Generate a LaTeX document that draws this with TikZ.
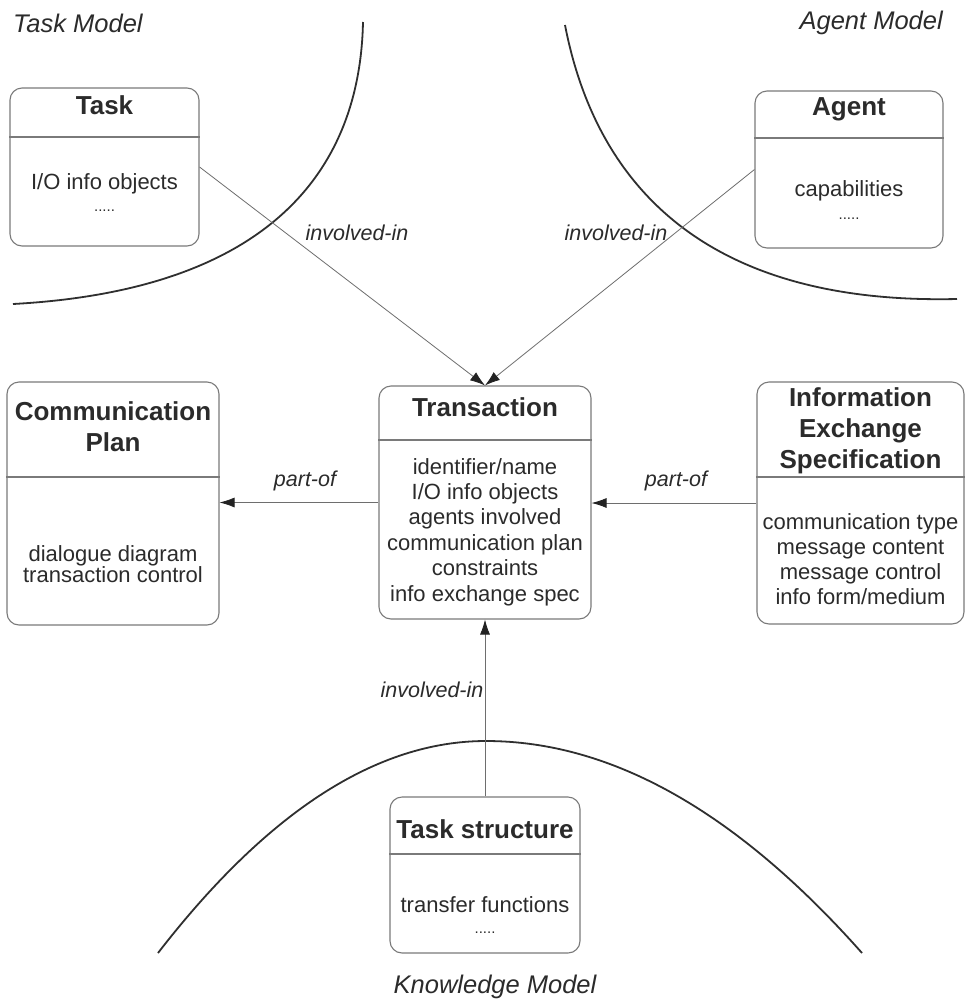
\documentclass[tikz,border=0pt]{standalone}
\usepackage{fontspec}
\setmainfont{Liberation Sans}
\usetikzlibrary{arrows.meta}

\definecolor{ink}{HTML}{2B2B2B}
\definecolor{boxline}{HTML}{7A7A7A}
\definecolor{relline}{HTML}{6E6E6E}
\definecolor{tipink}{HTML}{222222}
\definecolor{boundaryink}{HTML}{2F2F2F}

\tikzset{
  classbox/.style={draw=boxline, line width=1.1pt, rounded corners=12pt, fill=white, inner sep=0pt},
  divider/.style={draw=boxline, line width=1.1pt},
  classtitle/.style={font=\fontsize{26}{31}\selectfont\bfseries, text=ink, align=center, inner sep=0pt},
  classbody/.style={font=\fontsize{22}{25.4}\selectfont, text=ink, align=center, inner sep=0pt},
  moredots/.style={font=\fontsize{15}{15}\selectfont, text=ink, inner sep=0pt},
  rel/.style={draw=relline, line width=0.8pt, -{Latex[length=15pt,width=10pt,color=tipink]}},
  rellabel/.style={font=\fontsize{21.5}{21.5}\selectfont\itshape, text=ink, inner sep=0pt},
  boundary/.style={draw=boundaryink, line width=1.8pt},
  modelname/.style={font=\fontsize{25.5}{25.5}\selectfont\itshape, text=ink, inner sep=0pt}
}

\begin{document}
\begin{tikzpicture}[x=1pt, y=-1pt]
  \useasboundingbox[fill=white] (0,0) rectangle (965,1002);

  % model boundaries
  \draw[boundary] (363,22) .. controls (360,170) and (270,290) .. (13,304);
  \draw[boundary] (565,25) .. controls (595,180) and (700,305) .. (957,299);
  \draw[boundary] (158,953) .. controls (267.3,811.7) and (376.7,741) .. (486,741)
                  .. controls (611.3,741) and (736.7,811.7) .. (862,953);

  % model names
  \node[modelname, anchor=west] (taskmodel) at (13,23) {Task Model};
  \node[modelname, anchor=east] (agentmodel) at (943,23) {Agent Model};
  \node[modelname] (knowledgemodel) at (495,987) {Knowledge Model};

  % class boxes
  \node[classbox, minimum width=189pt, minimum height=158pt] (task) at (104.5,167) {};
  \node[classbox, minimum width=188pt, minimum height=157pt] (agent) at (849,169.5) {};
  \node[classbox, minimum width=212pt, minimum height=243pt] (comm) at (113,503.5) {};
  \node[classbox, minimum width=212pt, minimum height=233pt] (trans) at (485,502.5) {};
  \node[classbox, minimum width=207pt, minimum height=242pt] (infx) at (860.5,503) {};
  \node[classbox, minimum width=190pt, minimum height=156pt] (tstruct) at (485,875) {};

  % compartment dividers
  \draw[divider] (task.west |- 0,137) -- (task.east |- 0,137);
  \draw[divider] (agent.west |- 0,138) -- (agent.east |- 0,138);
  \draw[divider] (comm.west |- 0,477) -- (comm.east |- 0,477);
  \draw[divider] (trans.west |- 0,440) -- (trans.east |- 0,440);
  \draw[divider] (infx.west |- 0,477) -- (infx.east |- 0,477);
  \draw[divider] (tstruct.west |- 0,854) -- (tstruct.east |- 0,854);

  % Task
  \node[classtitle] (tasktitle) at (104.5,105) {Task};
  \node[classbody] (taskbody) at (104.5,184) {I/O info objects};
  \node[moredots] (taskdots) at (104.5,211) {.....};

  % Agent
  \node[classtitle] (agenttitle) at (849,109) {Agent};
  \node[classbody] (agentbody) at (849,191) {capabilities};
  \node[moredots] (agentdots) at (849,219) {.....};

  % Communication Plan
  \node[classtitle] (commtitle) at (113,427) {Communication\\Plan};
  \node[classbody, font=\fontsize{22}{21.5}\selectfont] (commbody) at (113,564)
    {dialogue diagram\\transaction control};

  % Transaction
  \node[classtitle] (transtitle) at (485,407) {Transaction};
  \node[classbody] (transbody) at (485,532)
    {identifier/name\\I/O info objects\\agents involved\\communication plan\\constraints\\info exchange spec};

  % Information Exchange Specification
  \node[classtitle] (infxtitle) at (860.5,431) {Information\\Exchange\\Specification};
  \node[classbody, font=\fontsize{22}{25}\selectfont] (infxbody) at (860.5,559)
    {communication type\\message content\\message control\\info form/medium};

  % Task structure
  \node[classtitle] (tstructtitle) at (485,829) {Task structure};
  \node[classbody] (tstructbody) at (485,905) {transfer functions};
  \node[moredots] (tstructdots) at (485,933) {.....};

  % relations
  \draw[rel] (task.east) -- (trans.north);
  \draw[rel] (agent.west) -- (trans.north);
  \draw[rel] (trans.west) -- (trans.west -| comm.east);
  \draw[rel] (infx.west) -- (infx.west -| trans.east);
  \draw[rel] (tstruct.north) -- (trans.south);

  % relation labels
  \node[rellabel] (lbltask) at (357,233) {involved-in};
  \node[rellabel] (lblagent) at (616,233) {involved-in};
  \node[rellabel] (lblcomm) at (305,481) {part-of};
  \node[rellabel] (lblinfx) at (676,481) {part-of};
  \node[rellabel] (lbltstruct) at (432,690) {involved-in};
\end{tikzpicture}
\end{document}
